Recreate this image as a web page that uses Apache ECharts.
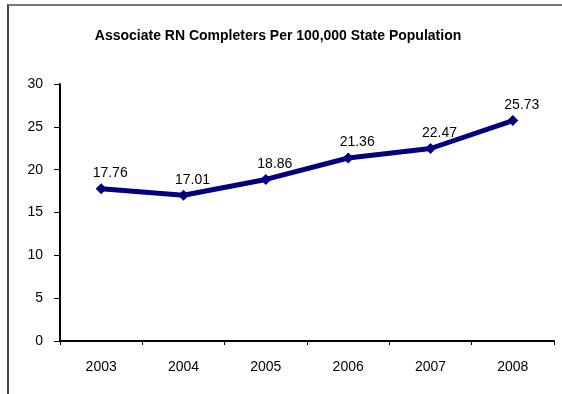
<!DOCTYPE html>
<html>
<head>
<meta charset="utf-8">
<script src="https://cdn.jsdelivr.net/npm/echarts@6/dist/echarts.min.js"></script>
<style>
html,body{margin:0;padding:0;background:#fff;overflow:hidden;}
#frame{position:absolute;left:7px;top:4px;width:620px;height:420px;border-left:2px solid #444;border-top:2px solid #777;box-sizing:border-box;}
#chart{position:absolute;left:0;top:0;width:562px;height:394px;}
</style>
</head>
<body>
<div id="frame"></div>
<div id="chart"></div>
<script>
const titleText = "Associate RN Completers Per 100,000 State Population";
const years = ["2003", "2004", "2005", "2006", "2007", "2008"];
const completers = [17.76, 17.01, 18.86, 21.36, 22.47, 25.73];
const yTicks = { min: 0, max: 30, interval: 5 };

const FONT = 'Liberation Sans, Arial';
const chart = echarts.init(document.getElementById('chart'), null, { renderer: 'canvas' });
chart.setOption({
  backgroundColor: 'transparent',
  animation: false,
  title: {
    text: titleText,
    left: 273,
    textAlign: 'center',
    top: 24,
    textStyle: { fontFamily: FONT, fontWeight: 'bold', fontSize: 14, color: '#000' }
  },
  grid: { left: 60, right: 8, top: 84, bottom: 53, containLabel: false },
  xAxis: {
    type: 'category',
    data: years,
    boundaryGap: true,
    axisLine: { lineStyle: { color: '#000', width: 2 } },
    axisTick: { show: true, inside: false, length: 4, alignWithLabel: false, lineStyle: { color: '#000', width: 1 } },
    axisLabel: { margin: 19, color: '#000', fontFamily: FONT, fontSize: 14 },
    splitLine: { show: false }
  },
  yAxis: {
    type: 'value',
    min: yTicks.min, max: yTicks.max, interval: yTicks.interval,
    axisLine: { show: true, lineStyle: { color: '#000', width: 2 } },
    axisTick: { show: true, inside: false, length: 6, lineStyle: { color: '#000', width: 1 } },
    axisLabel: { margin: 17, color: '#000', fontFamily: FONT, fontSize: 14 },
    splitLine: { show: false }
  },
  series: [{
    type: 'line',
    data: completers,
    symbol: 'diamond',
    symbolSize: 11,
    showAllSymbol: true,
    lineStyle: { color: '#000080', width: 5 },
    itemStyle: { color: '#000080' },
    label: {
      show: true,
      position: 'top',
      distance: 3,
      offset: [9, 0],
      color: '#000',
      fontFamily: FONT,
      fontSize: 14,
      formatter: p => p.value.toFixed(2)
    }
  }]
});
</script>
</body>
</html>
